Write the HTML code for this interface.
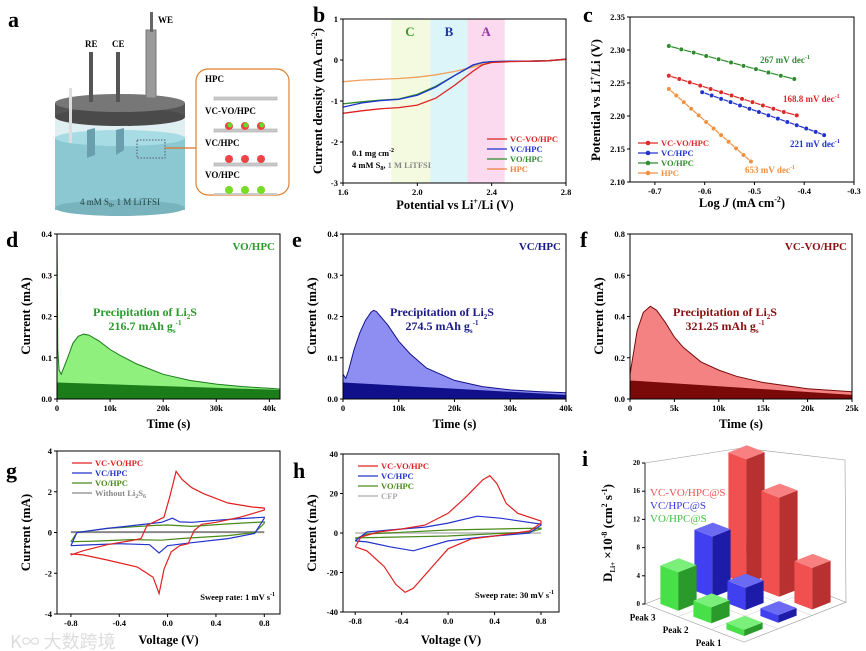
<!DOCTYPE html>
<html><head><meta charset="utf-8">
<style>
body{margin:0;background:#fff;}
svg{display:block;font-family:"Liberation Serif","Noto Serif CJK SC",serif;font-weight:bold;}
</style></head>
<body>
<svg id="fig" width="866" height="651" viewBox="0 0 866 651" xmlns="http://www.w3.org/2000/svg">
<g>
 <text x="8" y="27" font-size="22">a</text>
 <rect x="55" y="115" width="130" height="95" fill="#dfeff2"/>
 <rect x="55" y="138" width="130" height="72" fill="#8cc8d2"/>
 <ellipse cx="120" cy="138" rx="65" ry="8" fill="#a7dce4"/>
 <ellipse cx="120" cy="208" rx="65" ry="8" fill="#79b3bd"/>
 <rect x="55" y="103" width="130" height="14" fill="#555"/>
 <ellipse cx="120" cy="117" rx="65" ry="9" fill="#4a4a4a"/>
 <ellipse cx="120" cy="103" rx="65" ry="9" fill="#777"/>
 <rect x="89" y="52" width="4" height="50" fill="#555"/>
 <rect x="116" y="52" width="4" height="50" fill="#555"/>
 <rect x="146" y="30" width="10" height="68" fill="#9a9a9a" stroke="#777"/>
 <rect x="150" y="12" width="3" height="20" fill="#666"/>
 <polygon points="87,130 95,128 95,155 87,158" fill="#6a9fae"/>
 <polygon points="116,130 124,128 124,150 116,155" fill="#6a9fae"/>
 <rect x="69" y="88" width="3" height="55" fill="#ddd"/>
 <rect x="137" y="140" width="28" height="18" fill="none" stroke="#557" stroke-dasharray="1.5,1.5"/>
 <line x1="165" y1="148" x2="196" y2="148" stroke="#e07020" stroke-width="1.2"/>
 <text x="85" y="47" font-size="9">RE</text>
 <text x="112" y="47" font-size="9">CE</text>
 <text x="158" y="23" font-size="9">WE</text>
 <text x="120" y="205" font-size="9" text-anchor="middle" fill="#244" font-weight="normal">4 mM S<tspan font-size="6" dy="2">8</tspan><tspan dy="-2">, 1 M LiTFSI</tspan></text>
 <rect x="196" y="69" width="93" height="126" rx="12" fill="#fff" stroke="#e08030" stroke-width="1.2"/>
 <text x="205" y="82" font-size="9">HPC</text>
 <rect x="214" y="97" width="63" height="3" fill="#ccc" stroke="#999" stroke-width="0.5"/>
 <text x="205" y="114" font-size="9">VC-VO/HPC</text>
 <rect x="214" y="129" width="63" height="3" fill="#ccc" stroke="#999" stroke-width="0.5"/>
 <circle cx="229" cy="126" r="4" fill="#ee4444"/><circle cx="230" cy="125" r="2.5" fill="#66dd22"/>
 <circle cx="245" cy="126" r="4" fill="#ee4444"/><circle cx="246" cy="125" r="2.5" fill="#66dd22"/>
 <circle cx="261" cy="126" r="4" fill="#ee4444"/><circle cx="262" cy="125" r="2.5" fill="#66dd22"/>
 <text x="205" y="146" font-size="9">VC/HPC</text>
 <rect x="214" y="163" width="63" height="3" fill="#ccc" stroke="#999" stroke-width="0.5"/>
 <circle cx="229" cy="159" r="4" fill="#ee4444"/><circle cx="245" cy="159" r="4" fill="#ee4444"/><circle cx="261" cy="159" r="4" fill="#ee4444"/>
 <text x="205" y="178" font-size="9">VO/HPC</text>
 <rect x="214" y="193" width="63" height="2" fill="#ccc"/>
 <circle cx="229" cy="190" r="4" fill="#77dd22"/><circle cx="245" cy="190" r="4" fill="#77dd22"/><circle cx="261" cy="190" r="4" fill="#77dd22"/>
</g>
<text x="10" y="648" font-size="18" fill="#ddd" font-weight="normal" font-family="'Noto Sans CJK SC',sans-serif">K∞ 大数跨境</text>
</svg>
<script>
// ---------- DATA ----------
const bV = [1.6,1.7,1.8,1.9,2.0,2.1,2.2,2.3,2.35,2.4,2.5,2.6,2.7,2.8];
const bVCVO = [-1.3,-1.24,-1.19,-1.16,-1.1,-0.93,-0.62,-0.27,-0.12,-0.06,-0.04,-0.03,-0.02,0.02];
const bVC = [-1.15,-1.05,-0.99,-0.96,-0.86,-0.66,-0.38,-0.12,-0.06,-0.04,-0.03,-0.03,-0.02,0.02];
const bVO = [-1.07,-1.02,-0.98,-0.95,-0.84,-0.64,-0.38,-0.13,-0.06,-0.04,-0.03,-0.03,-0.02,0.02];
const bHPC = [-0.53,-0.49,-0.47,-0.45,-0.42,-0.36,-0.28,-0.17,-0.1,-0.05,-0.03,-0.03,-0.02,0.01];
const bXTicks = [1.6,2.0,2.4,2.8];
const bXLabels = ["1.6","2.0","2.4","2.8"];
const bYTicks = [1,0,-1,-2,-3];
const bYLabels = ["1","0","-1","-2","-3"];
const cVOx = [-0.672,-0.647,-0.622,-0.597,-0.572,-0.547,-0.522,-0.497,-0.472,-0.447,-0.42];
const cVOy = [2.306,2.301,2.296,2.291,2.286,2.281,2.276,2.271,2.266,2.261,2.256];
const cVCVOx = [-0.672,-0.651,-0.630,-0.609,-0.588,-0.567,-0.546,-0.525,-0.504,-0.483,-0.462,-0.441,-0.415];
const cVCVOy = [2.261,2.256,2.251,2.246,2.241,2.236,2.231,2.226,2.221,2.216,2.211,2.206,2.201];
const cVCx = [-0.605,-0.586,-0.567,-0.548,-0.529,-0.510,-0.491,-0.472,-0.453,-0.434,-0.415,-0.396,-0.377,-0.36];
const cVCy = [2.236,2.231,2.226,2.221,2.216,2.211,2.206,2.201,2.196,2.191,2.186,2.181,2.176,2.171];
const cHPCx = [-0.672,-0.657,-0.642,-0.627,-0.612,-0.597,-0.582,-0.567,-0.552,-0.537,-0.522,-0.507];
const cHPCy = [2.241,2.231,2.221,2.211,2.201,2.191,2.181,2.171,2.161,2.151,2.141,2.131];
const cXTicks = [-0.7,-0.6,-0.5,-0.4,-0.3];
const cXLabels = ["-0.7","-0.6","-0.5","-0.4","-0.3"];
const cYTicks = [2.10,2.15,2.20,2.25,2.30,2.35];
const cYLabels = ["2.10","2.15","2.20","2.25","2.30","2.35"];
const dT = [0,0.15,0.4,0.8,2,3,4,5,6,8,10,12,15,20,25,30,35,40,42];
const dI = [0.4,0.12,0.07,0.06,0.1,0.135,0.152,0.157,0.155,0.14,0.12,0.105,0.085,0.06,0.045,0.036,0.03,0.026,0.024];
const dBase = [0.04,0.022];
const eT = [0,0.5,1,2,3,4,5,5.5,6,8,10,12,15,20,25,30,35,40];
const eI = [0.06,0.05,0.07,0.12,0.16,0.19,0.21,0.215,0.212,0.18,0.14,0.11,0.075,0.045,0.03,0.022,0.018,0.015];
const eBase = [0.04,0.01];
const fT = [0,0.3,0.8,1.5,2.3,3,4,5,6,8,10,12,15,20,25];
const fI = [0.12,0.2,0.33,0.42,0.45,0.43,0.37,0.3,0.25,0.18,0.14,0.11,0.08,0.05,0.035];
const fBase = [0.09,0.02];
const gRedV = [-0.8,-0.7,-0.5,-0.3,-0.22,-0.17,-0.1,-0.03,0.02,0.07,0.12,0.2,0.3,0.5,0.7,0.8,0.8,0.6,0.4,0.28,0.22,0.17,0.1,0.03,-0.03,-0.07,-0.12,-0.25,-0.5,-0.7,-0.8,-0.8];
const gRedI = [-1.1,-0.9,-0.6,-0.4,-0.3,0.35,0.55,0.75,1.8,3.0,2.6,2.2,1.9,1.45,1.25,1.2,1.1,0.75,0.5,0.4,0.1,-0.55,-0.65,-0.95,-1.8,-3.0,-2.2,-1.7,-1.35,-1.1,-1.05,-1.1];
const gBlueV = [-0.8,-0.75,-0.5,-0.2,-0.05,0.04,0.1,0.2,0.4,0.6,0.8,0.8,0.72,0.5,0.2,0.0,-0.07,-0.15,-0.4,-0.7,-0.8];
const gBlueI = [-0.65,0.0,0.2,0.4,0.5,0.7,0.52,0.5,0.6,0.68,0.75,0.7,-0.05,-0.3,-0.5,-0.65,-1.0,-0.6,-0.55,-0.62,-0.65];
const gGreenV = [-0.8,-0.75,-0.5,-0.1,0.0,0.2,0.5,0.8,0.8,0.72,0.5,0.1,-0.05,-0.3,-0.6,-0.8];
const gGreenI = [-0.45,0.0,0.2,0.35,0.37,0.3,0.42,0.52,0.45,0.0,-0.15,-0.3,-0.38,-0.35,-0.42,-0.45];
const gGrayV = [-0.8,0.8];
const gGrayI = [0.02,0.02];
const gXTicks = [-0.8,-0.4,0.0,0.4,0.8];
const gXLabels = ["-0.8","-0.4","0.0","0.4","0.8"];
const gYTicks = [-4,-2,0,2,4];
const gYLabels = ["-4","-2","0","2","4"];
const hRedV = [-0.8,-0.75,-0.6,-0.4,-0.2,0.0,0.15,0.3,0.36,0.42,0.5,0.6,0.8,0.8,0.7,0.4,0.2,0.0,-0.15,-0.3,-0.37,-0.45,-0.55,-0.7,-0.8,-0.8];
const hRedI = [-7,-2,0.5,2,4,10,18,27,29,25,15,10,6,5,1,-1.5,-3,-8,-18,-28,-30,-26,-17,-9,-7,-7];
const hBlueV = [-0.8,-0.7,-0.4,-0.2,0.0,0.25,0.45,0.8,0.8,0.7,0.3,0.0,-0.3,-0.5,-0.7,-0.8];
const hBlueI = [-4,0.5,2,3,5,8.5,7.5,4.5,4,0,-2,-4,-9,-7,-4.5,-4];
const hGreenV = [-0.8,-0.7,0.0,0.8,0.8,0.7,0.0,-0.8];
const hGreenI = [-3,-0.5,1.5,2.5,2,0.5,-1.5,-2.5];
const hGrayV = [-0.8,0.8];
const hGrayI = [0,0];
const hXTicks = [-0.8,-0.4,0.0,0.4,0.8];
const hXLabels = ["-0.8","-0.4","0.0","0.4","0.8"];
const hYTicks = [-40,-20,0,20,40];
const hYLabels = ["-40","-20","0","20","40"];
const iSeries = ["VO/HPC@S","VC/HPC@S","VC-VO/HPC@S"];
const iPeaks = ["Peak 3","Peak 2","Peak 1"];
const iVO = [6,2.5,1];
const iVC = [9.5,3.5,1.2];
const iVCVO = [19.5,15.5,6.5];
const iZTicks = [0,4,8,12,16,20];

// ---------- HELPERS ----------
const NS = "http://www.w3.org/2000/svg";
const svg = document.getElementById('fig');
function mk(tag, attrs, parent, name) {
  const el = document.createElementNS(NS, tag);
  for (const k in attrs) el.setAttribute(k, attrs[k]);
  
  
  (parent || svg).appendChild(el);
  return el;
}
function txt(x, y, s, size, parent, name, extra) {
  const t = mk('text', Object.assign({x:x, y:y, 'font-size':size}, extra||{}), parent, name);
  t.innerHTML = s;
  return t;
}
function axes(c) {
  const g = mk('g', {}, svg, c.name);
  const sx = v => c.x0 + (v - c.xmin) / (c.xmax - c.xmin) * (c.x1 - c.x0);
  const sy = v => c.y1 - (v - c.ymin) / (c.ymax - c.ymin) * (c.y1 - c.y0);
  c.xt.forEach((v, i) => {
    mk('line', {x1:sx(v), x2:sx(v), y1:c.y1, y2:c.y1+3, stroke:'#000'}, g, 'x-tick');
    txt(sx(v), c.y1+12, c.xl[i], 8.5, g, 'x-tick-label', {'text-anchor':'middle'});
  });
  c.yt.forEach((v, i) => {
    mk('line', {x1:c.x0-3, x2:c.x0, y1:sy(v), y2:sy(v), stroke:'#000'}, g, 'y-tick');
    txt(c.x0-5, sy(v)+3, c.yl[i], 8.5, g, 'y-tick-label', {'text-anchor':'end'});
  });
  return {g, sx, sy};
}
function frame(c, g) {
  mk('rect', {x:c.x0, y:c.y0, width:c.x1-c.x0, height:c.y1-c.y0, fill:'none', stroke:'#000', 'stroke-width':1}, g, 'plot-frame');
}
function pathD(xs, ys, sx, sy) {
  return xs.map((v, i) => (i ? 'L' : 'M') + sx(v).toFixed(1) + ',' + sy(ys[i]).toFixed(1)).join('');
}
function ytitle(x, y, s, g, name) {
  txt(x, y, s, 13, g, name, {'text-anchor':'middle', transform:'rotate(-90 '+x+' '+y+')'});
}

// ---------- PANEL B ----------
(function(){
  const c = {name:'panel-b-lsv', x0:343, x1:566, y0:19, y1:183, xmin:1.6, xmax:2.8, ymin:-3, ymax:1, xt:bXTicks, xl:bXLabels, yt:bYTicks, yl:bYLabels};
  const {g, sx, sy} = axes(c);
  mk('rect', {x:sx(1.86), y:c.y0, width:sx(2.07)-sx(1.86), height:c.y1-c.y0, fill:'#f3fadf'}, g, 'region-c');
  mk('rect', {x:sx(2.07), y:c.y0, width:sx(2.27)-sx(2.07), height:c.y1-c.y0, fill:'#dcf5f8'}, g, 'region-b');
  mk('rect', {x:sx(2.27), y:c.y0, width:sx(2.47)-sx(2.27), height:c.y1-c.y0, fill:'#fbd9ee'}, g, 'region-a');
  txt(sx(1.96), 36, 'C', 13, g, 'region-c-label', {'text-anchor':'middle', fill:'#3a9a2a'});
  txt(sx(2.17), 36, 'B', 13, g, 'region-b-label', {'text-anchor':'middle', fill:'#2233aa'});
  txt(sx(2.37), 36, 'A', 13, g, 'region-a-label', {'text-anchor':'middle', fill:'#9933aa'});
  [[bHPC,'#f0a060','line-hpc'],[bVO,'#2e8b2e','line-vo-hpc'],[bVC,'#2233cc','line-vc-hpc'],[bVCVO,'#dd2222','line-vc-vo-hpc']].forEach(s => {
    mk('path', {d:pathD(bV, s[0], sx, sy), fill:'none', stroke:s[1], 'stroke-width':1.3}, g, s[2]);
  });
  frame(c, g);
  const leg = [['VC-VO/HPC','#dd2222'],['VC/HPC','#2233cc'],['VO/HPC','#2e8b2e'],['HPC','#f08040']];
  leg.forEach((l, i) => {
    const y = 139 + i*10;
    mk('line', {x1:487, x2:507, y1:y, y2:y, stroke:l[1], 'stroke-width':1.3}, g, 'legend-line');
    txt(510, y+3, l[0], 8.5, g, 'legend-entry', {fill:l[1]});
  });
  txt(352, 156, '0.1 mg cm<tspan font-size="6" dy="-4">-2</tspan>', 8.5, g, 'loading-note');
  txt(352, 168, '4 mM S<tspan font-size="6" dy="2">8</tspan><tspan dy="-2">, </tspan><tspan fill="#888">1 M LiTFSI</tspan>', 8.5, g, 'electrolyte-note');
  txt(455, 209, 'Potential vs Li<tspan font-size="8" dy="-5">+</tspan><tspan dy="5">/Li (V)</tspan>', 12.5, g, 'x-axis-title', {'text-anchor':'middle'});
  ytitle(322, 101, 'Current density (mA cm<tspan font-size="8" dy="-5">-2</tspan><tspan dy="5">)</tspan>', g, 'y-axis-title');
  txt(313, 22, 'b', 22, g, 'panel-label-b');
})();

// ---------- PANEL C ----------
(function(){
  const c = {name:'panel-c-tafel', x0:630, x1:854, y0:17, y1:182, xmin:-0.75, xmax:-0.3, ymin:2.10, ymax:2.35, xt:cXTicks, xl:cXLabels, yt:cYTicks, yl:cYLabels};
  const {g, sx, sy} = axes(c);
  frame(c, g);
  [[cVOx,cVOy,'#2e8b2e','series-vo-hpc'],[cVCVOx,cVCVOy,'#e02828','series-vc-vo-hpc'],[cVCx,cVCy,'#2233cc','series-vc-hpc'],[cHPCx,cHPCy,'#f09040','series-hpc']].forEach(s => {
    const sg = mk('g', {}, g, s[3]);
    mk('path', {d:pathD(s[0], s[1], sx, sy), fill:'none', stroke:s[2], 'stroke-width':1.2}, sg, 'fit-line');
    s[0].forEach((v, i) => mk('circle', {cx:sx(v), cy:sy(s[1][i]), r:2.3, fill:s[2], stroke:'#fff', 'stroke-width':0.6}, sg, 'data-point'));
  });
  txt(760, 63, '267 mV dec<tspan font-size="6" dy="-4">-1</tspan>', 9, g, 'slope-vo', {fill:'#2e8b2e'});
  txt(783, 102, '168.8 mV dec<tspan font-size="6" dy="-4">-1</tspan>', 9, g, 'slope-vc-vo', {fill:'#e02828'});
  txt(790, 147, '221 mV dec<tspan font-size="6" dy="-4">-1</tspan>', 9, g, 'slope-vc', {fill:'#2233cc'});
  txt(745, 173, '653 mV dec<tspan font-size="6" dy="-4">-1</tspan>', 9, g, 'slope-hpc', {fill:'#f09040'});
  const leg = [['VC-VO/HPC','#e02828'],['VC/HPC','#2233cc'],['VO/HPC','#2e8b2e'],['HPC','#f09040']];
  leg.forEach((l, i) => {
    const y = 143 + i*10;
    mk('line', {x1:638, x2:658, y1:y, y2:y, stroke:l[1], 'stroke-width':1.2}, g, 'legend-line');
    mk('circle', {cx:648, cy:y, r:2.3, fill:l[1]}, g, 'legend-marker');
    txt(661, y+3, l[0], 8.5, g, 'legend-entry', {fill:l[1]});
  });
  txt(742, 207, 'Log <tspan font-style="italic">J</tspan> (mA cm<tspan font-size="8" dy="-5">-2</tspan><tspan dy="5">)</tspan>', 12.5, g, 'x-axis-title', {'text-anchor':'middle'});
  ytitle(600, 100, 'Potential vs Li<tspan font-size="8" dy="-5">+</tspan><tspan dy="5">/Li (V)</tspan>', g, 'y-axis-title');
  txt(583, 22, 'c', 22, g, 'panel-label-c');
})();

// ---------- PANELS D/E/F ----------
function chrono(o) {
  const c = {name:o.name, x0:o.x0, x1:o.x1, y0:234, y1:399, xmin:0, xmax:o.xmax, ymin:0, ymax:o.ymax, xt:o.xt, xl:o.xl, yt:o.yt, yl:o.yl};
  const {g, sx, sy} = axes(c);
  const T = o.T, I = o.I;
  const area = pathD(T, I, sx, sy) + 'L' + sx(T[T.length-1]) + ',' + sy(0) + 'L' + sx(0) + ',' + sy(0) + 'Z';
  mk('path', {d:area, fill:o.light}, g, 'capacity-area');
  const tEnd = T[T.length-1];
  mk('path', {d:'M'+sx(0)+','+sy(0)+'L'+sx(0)+','+sy(o.base[0])+'L'+sx(tEnd)+','+sy(o.base[1])+'L'+sx(tEnd)+','+sy(0)+'Z', fill:o.dark}, g, 'baseline-area');
  mk('path', {d:pathD(T, I, sx, sy), fill:'none', stroke:o.dark, 'stroke-width':1}, g, 'current-curve');
  frame(c, g);
  txt(o.x1-5, 250, o.title, 11, g, 'sample-label', {'text-anchor':'end', fill:o.tc});
  txt(o.tx, o.ty, 'Precipitation of Li<tspan font-size="7" dy="3">2</tspan><tspan dy="-3">S</tspan>', 12, g, 'precipitation-label', {'text-anchor':'middle', fill:o.tc});
  txt(o.tx, o.ty+14, o.cap + ' mAh g<tspan font-size="7" dy="3">s</tspan><tspan font-size="7" dy="-8">-1</tspan>', 12, g, 'capacity-label', {'text-anchor':'middle', fill:o.tc});
  txt((o.x0+o.x1)/2, 428, 'Time (s)', 12.5, g, 'x-axis-title', {'text-anchor':'middle'});
  ytitle(o.x0-27, 316, 'Current (mA)', g, 'y-axis-title');
  txt(o.lx, 247, o.letter, 22, g, 'panel-label-' + o.letter);
}
chrono({name:'panel-d-vo-hpc', x0:57, x1:280, xmax:42, ymax:0.4, T:dT, I:dI, base:dBase, light:'#8ff07e', dark:'#1a7d1a', tc:'#2a9a2a', title:'VO/HPC', tx:145, ty:316, cap:'216.7', lx:6, letter:'d',
  xt:[0,10,20,30,40], xl:['0','10k','20k','30k','40k'], yt:[0,0.1,0.2,0.3,0.4], yl:['0.0','0.1','0.2','0.3','0.4']});
chrono({name:'panel-e-vc-hpc', x0:343, x1:566, xmax:40, ymax:0.4, T:eT, I:eI, base:eBase, light:'#8e8ef2', dark:'#10108a', tc:'#1a1a8a', title:'VC/HPC', tx:442, ty:316, cap:'274.5', lx:292, letter:'e',
  xt:[0,10,20,30,40], xl:['0','10k','20k','30k','40k'], yt:[0,0.1,0.2,0.3,0.4], yl:['0.0','0.1','0.2','0.3','0.4']});
chrono({name:'panel-f-vc-vo-hpc', x0:630, x1:852, xmax:25, ymax:0.8, T:fT, I:fI, base:fBase, light:'#f58282', dark:'#7a0a0a', tc:'#8a1010', title:'VC-VO/HPC', tx:725, ty:316, cap:'321.25', lx:580, letter:'f',
  xt:[0,5,10,15,20,25], xl:['0','5k','10k','15k','20k','25k'], yt:[0,0.2,0.4,0.6,0.8], yl:['0.0','0.2','0.4','0.6','0.8']});

// ---------- PANELS G/H ----------
function cv(o) {
  const c = {name:o.name, x0:o.x0, x1:o.x1, y0:o.y0, y1:o.y1, xmin:o.xmin, xmax:o.xmax, ymin:o.ymin, ymax:o.ymax, xt:o.xt, xl:o.xl, yt:o.yt, yl:o.yl};
  const {g, sx, sy} = axes(c);
  o.series.forEach(s => mk('path', {d:pathD(s[0], s[1], sx, sy), fill:'none', stroke:s[2], 'stroke-width':s[4]||1.2}, g, s[3]));
  frame(c, g);
  o.leg.forEach((l, i) => {
    const y = o.y0 + 12 + i*10;
    mk('line', {x1:o.x0+15, x2:o.x0+35, y1:y, y2:y, stroke:l[1], 'stroke-width':1.3}, g, 'legend-line');
    txt(o.x0+38, y+3, l[0], 8.5, g, 'legend-entry', {fill:l[1]});
  });
  txt(o.x1-5, o.y1-14, o.rate, 8.5, g, 'sweep-rate-label', {'text-anchor':'end'});
  txt((o.x0+o.x1)/2, 644, 'Voltage (V)', 12.5, g, 'x-axis-title', {'text-anchor':'middle'});
  ytitle(o.x0-27, (o.y0+o.y1)/2, 'Current (mA)', g, 'y-axis-title');
  txt(o.lx, 478, o.letter, 22, g, 'panel-label-' + o.letter);
}
cv({name:'panel-g-cv-1mv', x0:57, x1:280, y0:451, y1:614, xmin:-0.915, xmax:0.93, ymin:-4, ymax:4, xt:gXTicks, xl:gXLabels, yt:gYTicks, yl:gYLabels,
  series:[[gGrayV,gGrayI,'#888','line-without-li2s6',2],[gGreenV,gGreenI,'#4a8a1a','line-vo-hpc'],[gBlueV,gBlueI,'#2233cc','line-vc-hpc'],[gRedV,gRedI,'#e02020','line-vc-vo-hpc']],
  leg:[['VC-VO/HPC','#e02020'],['VC/HPC','#2233cc'],['VO/HPC','#4a8a1a'],['Without Li<tspan font-size="6" dy="2">2</tspan><tspan dy="-2">S</tspan><tspan font-size="6" dy="2">6</tspan>','#888']],
  rate:'Sweep rate: 1 mV s<tspan font-size="6" dy="-4">-1</tspan>', lx:6, letter:'g'});
cv({name:'panel-h-cv-30mv', x0:343, x1:559, y0:454, y1:612, xmin:-0.905, xmax:0.955, ymin:-40, ymax:40, xt:hXTicks, xl:hXLabels, yt:hYTicks, yl:hYLabels,
  series:[[hGrayV,hGrayI,'#c8c8c8','line-cfp',2],[hGreenV,hGreenI,'#4a8a1a','line-vo-hpc'],[hBlueV,hBlueI,'#2233cc','line-vc-hpc'],[hRedV,hRedI,'#e02020','line-vc-vo-hpc']],
  leg:[['VC-VO/HPC','#e02020'],['VC/HPC','#2233cc'],['VO/HPC','#4a8a1a'],['CFP','#aaa']],
  rate:'Sweep rate: 30 mV s<tspan font-size="6" dy="-4">-1</tspan>', lx:293, letter:'h'});

// ---------- PANEL I (3D bars) ----------
(function(){
  const g = mk('g', {}, svg, 'panel-i-3d-bars');
  const O = [645, 604];
  const ds = [34, -13.3];
  const dp = [33, 12.7];
  const kz = 7.05;
  const kb = 6.4;
  const P = (s, p, z) => [O[0] + s*ds[0] + p*dp[0], O[1] + s*ds[1] + p*dp[1] - z*kz];
  const Q = (s, p, z) => [O[0] + s*ds[0] + p*dp[0], O[1] + s*ds[1] + p*dp[1] - z*kb];
  const pts = a => a.map(q => q[0].toFixed(1)+','+q[1].toFixed(1)).join(' ');
  mk('polygon', {points:pts([P(0,0,0),P(0,3,0),P(3,3,0),P(3,0,0)]), fill:'none', stroke:'#999', 'stroke-width':0.6}, g, 'floor');
  for (let k = 1; k < 3; k++) {
    mk('line', {x1:P(k,0,0)[0], y1:P(k,0,0)[1], x2:P(k,3,0)[0], y2:P(k,3,0)[1], stroke:'#ccc', 'stroke-width':0.5}, g, 'floor-grid');
    mk('line', {x1:P(0,k,0)[0], y1:P(0,k,0)[1], x2:P(3,k,0)[0], y2:P(3,k,0)[1], stroke:'#ccc', 'stroke-width':0.5}, g, 'floor-grid');
  }
  mk('polyline', {points:pts([P(0,0,0),[645,463],[742,448],[845,460],P(3,3,0)]), fill:'none', stroke:'#999', 'stroke-width':0.6}, g, 'wall-edges');
  mk('line', {x1:742, y1:448, x2:P(3,0,0)[0], y2:P(3,0,0)[1], stroke:'#999', 'stroke-width':0.6}, g, 'back-corner-edge');
  mk('line', {x1:645, y1:463, x2:645, y2:604, stroke:'#000', 'stroke-width':0.8}, g, 'z-axis');
  iZTicks.forEach(v => {
    mk('line', {x1:642, x2:645, y1:604-v*kz, y2:604-v*kz, stroke:'#000'}, g, 'z-tick');
    txt(640, 606-v*kz, String(v), 7, g, 'z-tick-label', {'text-anchor':'end'});
  });
  iPeaks.forEach((p, i) => {
    const q = P(0, i+0.5, 0);
    txt(q[0]-6, q[1]+10, p, 9, g, 'peak-label', {'text-anchor':'end'});
  });
  const cols = [['#48e048','#2a9a2a','#7af07a'],['#4040f0','#1c1ca8','#6a6af2'],['#f05050','#b83030','#f88080']];
  const vals = [iVO, iVC, iVCVO];
  const bars = [];
  vals.forEach((arr, s) => arr.forEach((v, p) => bars.push({s, p, v})));
  bars.sort((a, b) => P(a.s+0.5, a.p+0.5, 0)[1] - P(b.s+0.5, b.p+0.5, 0)[1]);
  const w = 0.27;
  bars.forEach(b => {
    const cs = b.s + 0.5, cp = b.p + 0.5, h = b.v;
    const bg = mk('g', {}, g, 'bar-' + iSeries[b.s].toLowerCase().replace(/[^a-z]+/g,'-') + '-' + iPeaks[b.p].replace(' ','').toLowerCase());
    const col = cols[b.s];
    mk('polygon', {points:pts([Q(cs-w,cp-w,0),Q(cs-w,cp+w,0),Q(cs-w,cp+w,h),Q(cs-w,cp-w,h)]), fill:col[0]}, bg, 'bar-front');
    mk('polygon', {points:pts([Q(cs-w,cp+w,0),Q(cs+w,cp+w,0),Q(cs+w,cp+w,h),Q(cs-w,cp+w,h)]), fill:col[1]}, bg, 'bar-side');
    mk('polygon', {points:pts([Q(cs-w,cp-w,h),Q(cs+w,cp-w,h),Q(cs+w,cp+w,h),Q(cs-w,cp+w,h)]), fill:col[2]}, bg, 'bar-top');
  });
  txt(650, 496, 'VC-VO/HPC@S', 11, g, 'legend-vc-vo', {fill:'#f05050', 'font-weight':'normal'});
  txt(650, 509, 'VC/HPC@S', 11, g, 'legend-vc', {fill:'#3a3ae8', 'font-weight':'normal'});
  txt(650, 522, 'VO/HPC@S', 11, g, 'legend-vo', {fill:'#40c040', 'font-weight':'normal'});
  ytitle(612, 533, 'D<tspan font-size="7" dy="3">Li+</tspan><tspan dy="-3"> ×10</tspan><tspan font-size="8" dy="-5">-8</tspan><tspan dy="5"> (cm</tspan><tspan font-size="8" dy="-5">2</tspan><tspan dy="5"> s</tspan><tspan font-size="8" dy="-5">-1</tspan><tspan dy="5">)</tspan>', g, 'y-axis-title');
  txt(582, 466, 'i', 22, g, 'panel-label-i');
})();
</script>
</body></html>
